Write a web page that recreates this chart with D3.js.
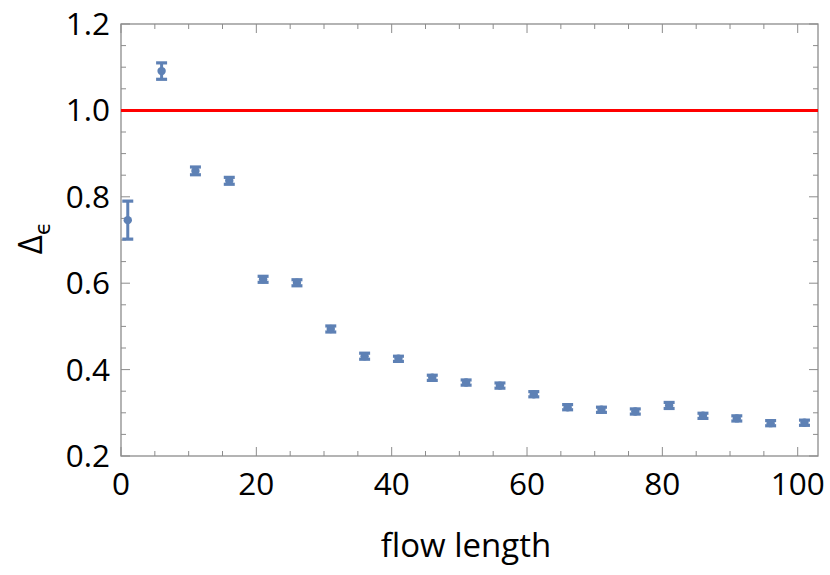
<!DOCTYPE html>
<html>
<head>
<meta charset="utf-8">
<script src="https://cdn.jsdelivr.net/npm/d3@7"></script>
<style>
  body { margin: 0; background: #fff; }
  svg { font-family: "Open Sans", "DejaVu Sans", sans-serif; }
</style>
</head>
<body>
<div id="chart"></div>
<script>
// flow length (x) and Delta_epsilon (y) with error half-widths
const flowLength = [1, 6, 11, 16, 21, 26, 31, 36, 41, 46, 51, 56, 61, 66, 71, 76, 81, 86, 91, 96, 101];
const delta = [0.746, 1.091, 0.860, 0.837, 0.609, 0.601, 0.494, 0.431, 0.425, 0.381, 0.370,
               0.363, 0.343, 0.313, 0.307, 0.303, 0.317, 0.293, 0.287, 0.276, 0.277];
const deltaErr = [0.044, 0.019, 0.009, 0.008, 0.007, 0.007, 0.007, 0.007, 0.006, 0.006, 0.006,
                  0.006, 0.006, 0.006, 0.006, 0.006, 0.007, 0.006, 0.006, 0.006, 0.006];
const refLine = 1.0;
const xTicks = [0, 20, 40, 60, 80, 100];
const yTicks = [0.2, 0.4, 0.6, 0.8, 1.0, 1.2];

const width = 830, height = 575;
const margin = {top: 24, right: 12, bottom: 119, left: 121};

const svg = d3.select("#chart").append("svg")
    .attr("width", width)
    .attr("height", height);

const x = d3.scaleLinear().domain([0, 103]).range([margin.left, width - margin.right]);
const y = d3.scaleLinear().domain([0.2, 1.2]).range([height - margin.bottom, margin.top]);

const frameColor = "#8c8c8c";
const pointColor = "#5e81b5";
const fontSize = 31.5;

// frame ticks (major + minor), on all four sides
const xMinor = d3.range(0, 103, 5);
const yMinor = d3.range(0.2, 1.2001, 0.05);
const g = svg.append("g");

function isMajorX(v) { return Math.abs(v % 20) < 1e-6; }
function isMajorY(v) { return Math.abs(Math.round(v * 10) % 2) === 0 && Math.abs(v * 10 - Math.round(v * 10)) < 1e-6; }

xMinor.forEach(v => {
  const len = isMajorX(v) ? 9 : 5;
  g.append("line").attr("x1", x(v)).attr("x2", x(v))
    .attr("y1", y(0.2)).attr("y2", y(0.2) - len)
    .attr("stroke", frameColor).attr("stroke-width", 1);
  g.append("line").attr("x1", x(v)).attr("x2", x(v))
    .attr("y1", y(1.2)).attr("y2", y(1.2) + len)
    .attr("stroke", frameColor).attr("stroke-width", 1);
});
yMinor.forEach(v => {
  const len = isMajorY(v) ? 9 : 5;
  g.append("line").attr("y1", y(v)).attr("y2", y(v))
    .attr("x1", x(0)).attr("x2", x(0) + len)
    .attr("stroke", frameColor).attr("stroke-width", 1);
  g.append("line").attr("y1", y(v)).attr("y2", y(v))
    .attr("x1", x(103)).attr("x2", x(103) - len)
    .attr("stroke", frameColor).attr("stroke-width", 1);
});

// frame
svg.append("rect")
    .attr("x", x(0)).attr("y", y(1.2))
    .attr("width", x(103) - x(0)).attr("height", y(0.2) - y(1.2))
    .attr("fill", "none").attr("stroke", frameColor).attr("stroke-width", 1.3);

// tick labels
svg.append("g").selectAll("text")
  .data(xTicks).join("text")
    .attr("x", d => x(d)).attr("y", 495)
    .attr("text-anchor", "middle")
    .attr("font-size", fontSize)
    .text(d => d);

svg.append("g").selectAll("text")
  .data(yTicks).join("text")
    .attr("x", 110).attr("y", d => y(d) + 11)
    .attr("text-anchor", "end")
    .attr("font-size", fontSize)
    .text(d => d.toFixed(1));

// red reference line
svg.append("line")
    .attr("x1", x(0)).attr("x2", x(103))
    .attr("y1", y(refLine)).attr("y2", y(refLine))
    .attr("stroke", "#ff0000").attr("stroke-width", 3);

// error bars + points
const pts = svg.append("g").attr("stroke", pointColor).attr("fill", pointColor);
flowLength.forEach((fl, i) => {
  const cx = x(fl), lo = y(delta[i] - deltaErr[i]), hi = y(delta[i] + deltaErr[i]);
  pts.append("line").attr("x1", cx).attr("x2", cx).attr("y1", lo).attr("y2", hi).attr("stroke-width", 3);
  pts.append("line").attr("x1", cx - 5.5).attr("x2", cx + 5.5).attr("y1", lo).attr("y2", lo).attr("stroke-width", 3.2);
  pts.append("line").attr("x1", cx - 5.5).attr("x2", cx + 5.5).attr("y1", hi).attr("y2", hi).attr("stroke-width", 3.2);
  pts.append("circle").attr("cx", cx).attr("cy", y(delta[i])).attr("r", 4.2).attr("stroke", "none");
});

// axis labels
svg.append("text")
    .attr("x", 466).attr("y", 557)
    .attr("text-anchor", "middle")
    .attr("font-size", 33)
    .text("flow length");

const yl = svg.append("text")
    .attr("transform", "translate(42,238) rotate(-90)")
    .attr("text-anchor", "middle")
    .attr("font-size", 33);
yl.append("tspan").text("Δ");
yl.append("tspan").attr("font-size", 22).attr("dy", 8).text("ϵ");
</script>
</body>
</html>
